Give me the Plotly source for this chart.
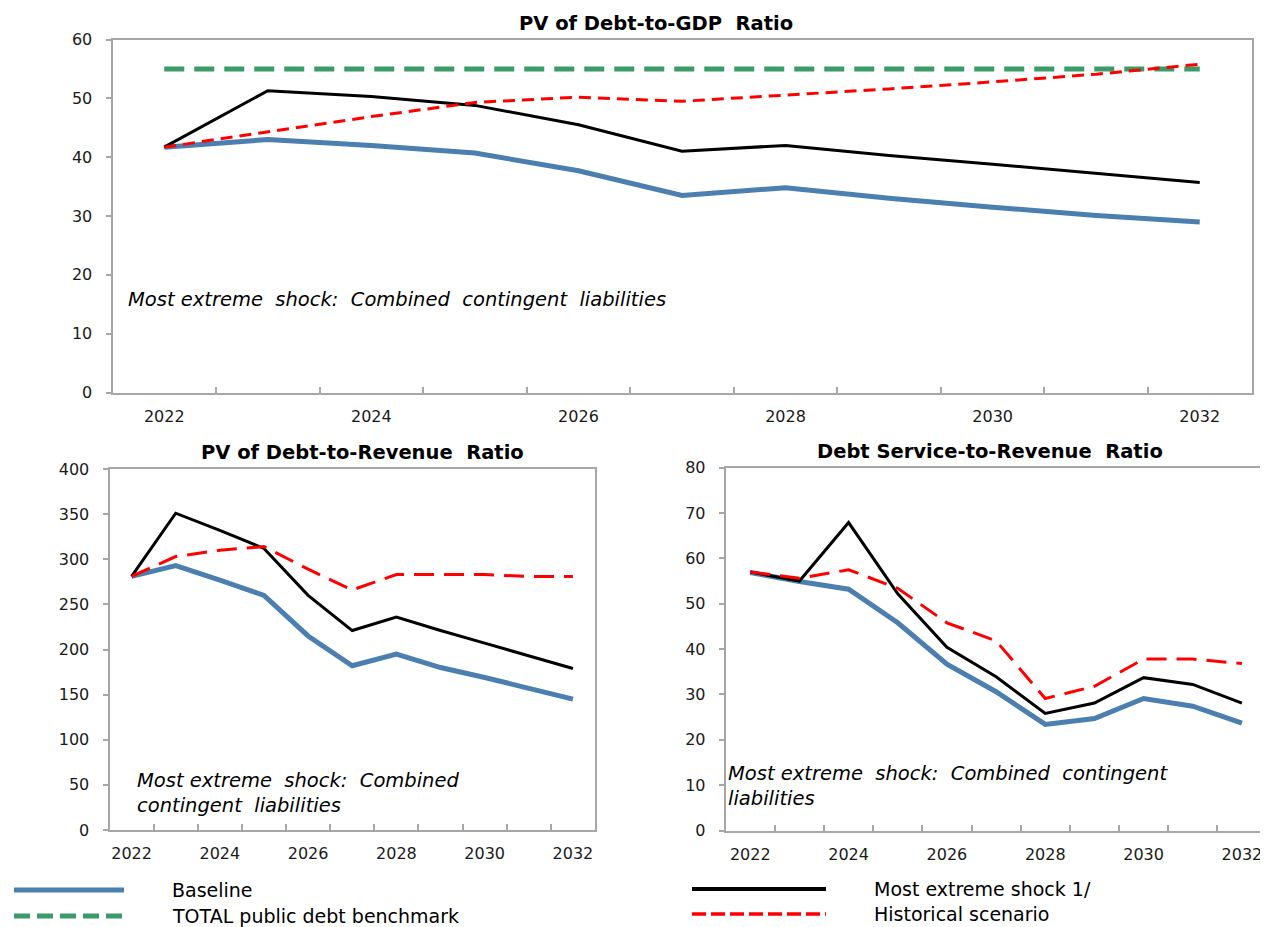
import plotly.graph_objects as go

# ---------------- data ----------------
years = [2022, 2023, 2024, 2025, 2026, 2027, 2028, 2029, 2030, 2031, 2032]
tick_years = [2022, 2024, 2026, 2028, 2030, 2032]

gdp_baseline = [41.7, 43.0, 42.0, 40.7, 37.7, 33.5, 34.8, 33.0, 31.5, 30.1, 29.0]
gdp_shock = [41.7, 51.3, 50.3, 48.8, 45.5, 41.0, 42.0, 40.3, 38.8, 37.2, 35.7]
gdp_hist = [41.7, 44.3, 46.9, 49.3, 50.2, 49.5, 50.5, 51.6, 52.8, 54.1, 55.8]
gdp_benchmark = [55, 55, 55, 55, 55, 55, 55, 55, 55, 55, 55]

rev_baseline = [281, 293, 277, 260, 215, 182, 195, 180, 169, 157, 145]
rev_shock = [281, 351, 332, 312, 260, 221, 236, 221, 207, 193, 179]
rev_hist = [281, 303, 310, 314, 289, 266, 283, 283, 283, 281, 281]

ds_baseline = [56.9, 54.9, 53.2, 45.8, 36.7, 30.6, 23.4, 24.7, 29.1, 27.4, 23.7]
ds_shock = [57.0, 55.0, 67.9, 52.2, 40.4, 33.9, 25.8, 28.1, 33.7, 32.2, 28.1]
ds_hist = [57.0, 55.6, 57.5, 53.4, 45.8, 41.8, 29.1, 31.8, 37.8, 37.8, 36.8]

titles = ["PV of Debt-to-GDP  Ratio", "PV of Debt-to-Revenue  Ratio",
          "Debt Service-to-Revenue  Ratio"]
note_top = "Most extreme  shock:  Combined  contingent  liabilities"
note_bl = "Most extreme  shock:  Combined<br>contingent  liabilities"
note_br = "Most extreme  shock:  Combined  contingent<br>liabilities"
legend_names = ["Baseline", "Most extreme shock 1/", "TOTAL public debt benchmark",
                "Historical scenario"]

# ---------------- style ----------------
W, H = 1268, 927
OFF = 8  # page body margin: figure is drawn 8px in from the top-left corner
BLUE = "#4A7FB0"
GREEN = "#3A9A68"
RED = "#FF0000"
BLACK = "#000000"
AXC = "#A6A6A6"
FONT = "DejaVu Sans, sans-serif"


def px(x):
    return (x - OFF) / W


def py(y):
    return 1 - (y - OFF) / H


fig = go.Figure()


def add_panel(idx, base, shock, hist, bench=None, red_dash="12px,7px"):
    xa = "x" if idx == 1 else f"x{idx}"
    ya = "y" if idx == 1 else f"y{idx}"
    fig.add_trace(go.Scatter(x=years, y=base, mode="lines", xaxis=xa, yaxis=ya,
                             line=dict(color=BLUE, width=5), showlegend=False,
                             name=legend_names[0]))
    fig.add_trace(go.Scatter(x=years, y=shock, mode="lines", xaxis=xa, yaxis=ya,
                             line=dict(color=BLACK, width=3), showlegend=False,
                             name=legend_names[1]))
    if bench is not None:
        fig.add_trace(go.Scatter(x=years, y=bench, mode="lines", xaxis=xa, yaxis=ya,
                                 line=dict(color=GREEN, width=5, dash="20px,10px"),
                                 showlegend=False, name=legend_names[2]))
    fig.add_trace(go.Scatter(x=years, y=hist, mode="lines", xaxis=xa, yaxis=ya,
                             line=dict(color=RED, width=3, dash=red_dash),
                             showlegend=False, name=legend_names[3]))


add_panel(1, gdp_baseline, gdp_shock, gdp_hist, gdp_benchmark, red_dash="12px,7px")
add_panel(2, rev_baseline, rev_shock, rev_hist, red_dash="20px,10px")
add_panel(3, ds_baseline, ds_shock, ds_hist, red_dash="20px,10px")

boundaries = [y + 0.5 for y in years[:-1]]


def xaxis(domain, anchor):
    return dict(domain=domain, anchor=anchor, range=[2021.5, 2032.5],
                tickvals=tick_years, ticktext=[str(t) for t in tick_years],
                ticks="", showgrid=False, zeroline=False, automargin=False,
                showline=True, linecolor=AXC, linewidth=2, mirror=True,
                tickfont=dict(family=FONT, size=16, color="#1a1a1a"),
                ticklabelstandoff=8,
                minor=dict(tickvals=boundaries, ticks="inside", ticklen=6,
                           tickcolor=AXC, tickwidth=1.5, showgrid=False))


def yaxis(domain, anchor, rng, dtick):
    return dict(domain=domain, anchor=anchor, range=rng, dtick=dtick,
                ticks="outside", ticklen=5, tickcolor=AXC, tickwidth=1.5,
                showgrid=False, zeroline=False, automargin=False,
                showline=True, linecolor=AXC, linewidth=2, mirror=True,
                tickfont=dict(family=FONT, size=16, color="#1a1a1a"),
                ticklabelstandoff=10)


layout = dict(
    width=W, height=H, autosize=False,
    margin=dict(l=0, r=0, t=0, b=0, pad=0, autoexpand=False),
    paper_bgcolor="white", plot_bgcolor="white", showlegend=False,
    xaxis=xaxis([px(112.5), px(1251.5)], "y"),
    yaxis=yaxis([py(392.5), py(39.5)], "x", [0, 60], 10),
    xaxis2=xaxis([px(109.5), px(595)], "y2"),
    yaxis2=yaxis([py(830), py(469)], "x2", [0, 400], 50),
    xaxis3=xaxis([px(725.7), px(1266.5)], "y3"),
    yaxis3=yaxis([py(830.5), py(467.7)], "x3", [0, 80], 10),
)
fig.update_layout(**layout)

ann = []
title_font = dict(family=FONT, size=19.5, color="black")
for t, (x, y) in zip(titles, [(656, 24), (362, 452), (990, 451)]):
    ann.append(dict(text=f"<b>{t}</b>", x=px(x), y=py(y), xref="paper", yref="paper",
                    showarrow=False, xanchor="center", yanchor="middle", font=title_font))

note_font = dict(family=FONT, size=19.5, color="black")
ann.append(dict(text=f"<i>{note_top}</i>", x=px(126), y=py(300), xref="paper", yref="paper",
                showarrow=False, xanchor="left", yanchor="middle", align="left", font=note_font))
ann.append(dict(text=f"<i>{note_bl}</i>", x=px(135), y=py(793), xref="paper", yref="paper",
                showarrow=False, xanchor="left", yanchor="middle", align="left", font=note_font))
ann.append(dict(text=f"<i>{note_br}</i>", x=px(726), y=py(786), xref="paper", yref="paper",
                showarrow=False, xanchor="left", yanchor="middle", align="left", font=note_font))

# legend (drawn manually, two columns)
leg_font = dict(family=FONT, size=19, color="black")
leg_items = [
    (legend_names[0], BLUE, 5, "solid", 14, 124, 890, 170),
    (legend_names[2], GREEN, 5, "16px,7px", 14, 124, 916, 170),
    (legend_names[1], BLACK, 4, "solid", 692, 826, 889, 872),
    (legend_names[3], RED, 3.5, "14px,5px", 692, 826, 914, 872),
]
shapes = []
for name, col, w, dash, x0, x1, y, tx in leg_items:
    shapes.append(dict(type="line", xref="paper", yref="paper",
                       x0=px(x0), x1=px(x1), y0=py(y), y1=py(y),
                       line=dict(color=col, width=w, dash=dash)))
    ann.append(dict(text=name, x=px(tx), y=py(y), xref="paper", yref="paper",
                    showarrow=False, xanchor="left", yanchor="middle", font=leg_font))

fig.update_layout(annotations=ann, shapes=shapes)
fig.write_html("out.html")
